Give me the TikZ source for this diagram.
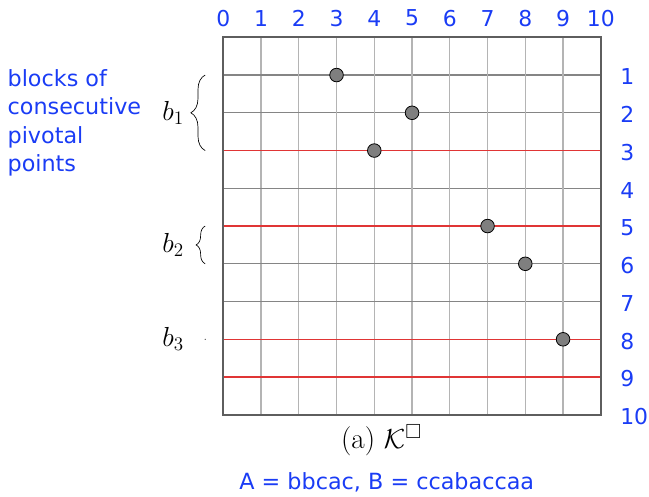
\documentclass[tikz,border=0pt]{standalone}
\usepackage{fontspec}
\usepackage{amssymb}
\newfontfamily\bluefont{DejaVu Sans}
\usetikzlibrary{decorations.pathreplacing}
\definecolor{lblblue}{HTML}{1A3CF5}
\definecolor{gridv}{HTML}{B4B4B4}
\definecolor{gridh}{HTML}{858585}
\definecolor{border}{HTML}{5E5E5E}
\definecolor{redline}{HTML}{E03535}
\definecolor{ptfill}{HTML}{7F7F7F}
\tikzset{
  numlbl/.style={text=lblblue, font=\bluefont\fontsize{16.5}{19}\selectfont, inner sep=0pt},
  bluetxt/.style={text=lblblue, font=\bluefont\fontsize{16.8}{21.5}\selectfont, inner sep=0pt},
  mathlbl/.style={font=\fontsize{22}{26}\selectfont, inner sep=0pt},
  pt/.style={circle, draw=black, line width=0.6pt, fill=ptfill, minimum size=0.36cm, inner sep=0pt},
  blockline/.style={redline, line width=1.2pt},
  bracedeco/.style={decorate, decoration={brace, amplitude=#1}, line width=0.5pt},
}
\begin{document}
\begin{tikzpicture}
\useasboundingbox (-5.915,0.988) rectangle (11.277,-12.177);
% grid
\foreach \i in {1,...,9} {
  \draw[gridv, line width=0.9pt] (\i,0) -- (\i,-10);
  \draw[gridh, line width=0.9pt] (0,-\i) -- (10,-\i);
}
% red lines
\foreach \r in {3,5,8,9} {
  \draw[blockline] (0,-\r) -- (10,-\r);
}
\draw[border, line width=1.6pt] (0,0) rectangle (10,-10);
% column labels
\foreach \i in {0,...,10} {
  \node[numlbl] (c\i) at (\i,0.51) {\i};
}
% row labels
\foreach \r in {1,...,10} {
  \node[numlbl, anchor=west] (r\r) at (10.51,-\r-0.05) {\r};
}
% points
\node[pt] (p1) at (3,-1) {};
\node[pt] (p2) at (5,-2) {};
\node[pt] (p3) at (4,-3) {};
\node[pt] (p4) at (7,-5) {};
\node[pt] (p5) at (8,-6) {};
\node[pt] (p6) at (9,-8) {};
% braces
\coordinate (b1s) at (-0.48,-3);
\coordinate (b1e) at (-0.48,-1);
\coordinate (b2s) at (-0.48,-6);
\coordinate (b2e) at (-0.48,-5);
\draw[bracedeco=0.38cm] (b1s) -- (b1e);
\draw[bracedeco=0.24cm] (b2s) -- (b2e);
\fill (-0.48,-8) circle (0.015);
\node[mathlbl] (b1) at (-1.33,-2) {$b_1$};
\node[mathlbl] (b2) at (-1.33,-5.5) {$b_2$};
\node[mathlbl] (b3) at (-1.33,-8) {$b_3$};
% texts
\node[bluetxt, align=left, anchor=north west] (blk) at (-5.72,-0.84) {blocks of\\consecutive\\pivotal\\points};
\node[mathlbl] (cap) at (4.19,-10.67) {(a) $\mathcal{K}^{\square}$};
\node[bluetxt] (ab) at (4.33,-11.78) {A = bbcac, B = ccabaccaa};
\end{tikzpicture}
\end{document}
